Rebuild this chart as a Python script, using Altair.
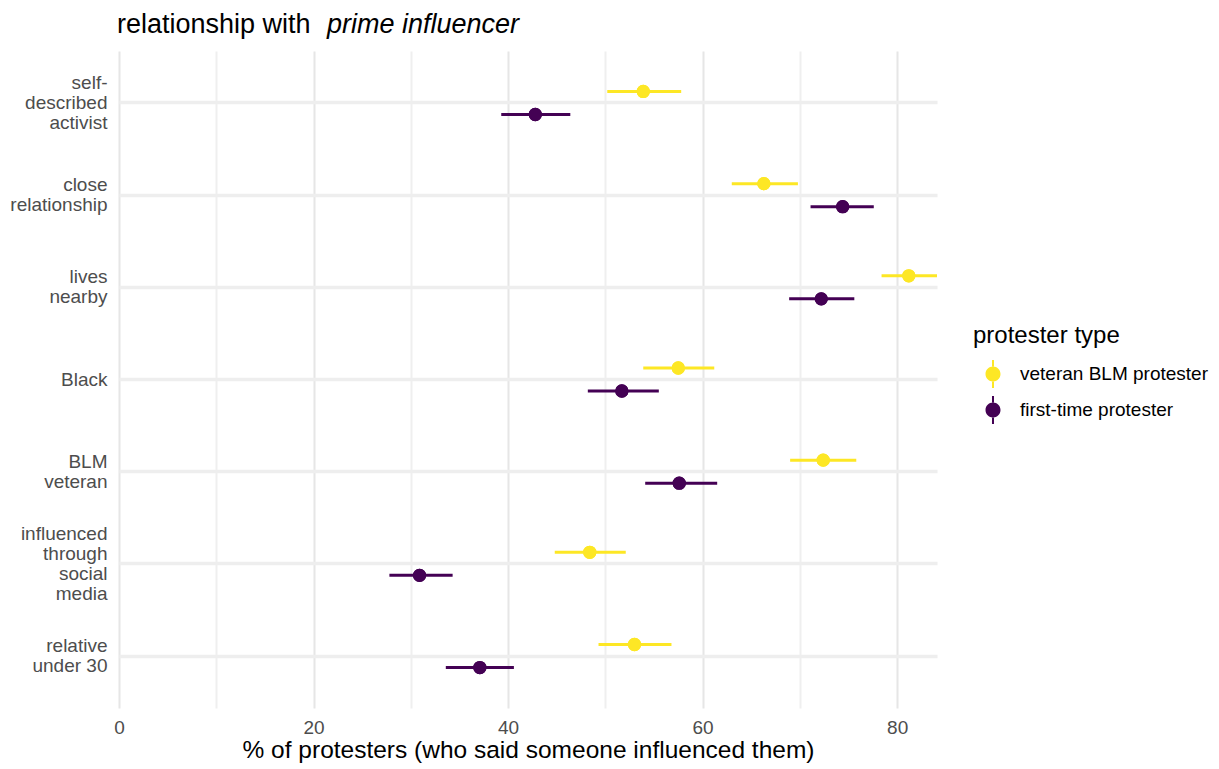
import altair as alt
import pandas as pd

categories = ["self-\ndescribed\nactivist", "close\nrelationship", "lives\nnearby", "Black",
              "BLM\nveteran", "influenced\nthrough\nsocial\nmedia", "relative\nunder 30"]
groups = ["veteran BLM protester", "first-time protester"]

vet_est = [53.9, 66.3, 81.2, 57.5, 72.4, 48.4, 53.0]
vet_lo = [50.2, 63.0, 78.4, 53.9, 69.0, 44.8, 49.3]
vet_hi = [57.8, 69.8, 85.0, 61.2, 75.8, 52.1, 56.8]

ft_est = [42.8, 74.4, 72.2, 51.7, 57.6, 30.9, 37.1]
ft_lo = [39.3, 71.1, 68.9, 48.2, 54.1, 27.8, 33.6]
ft_hi = [46.4, 77.6, 75.6, 55.5, 61.5, 34.3, 40.6]

rows = []
for i, c in enumerate(categories):
    rows.append({"cat": c, "group": groups[0], "est": vet_est[i], "lo": vet_lo[i], "hi": vet_hi[i]})
    rows.append({"cat": c, "group": groups[1], "est": ft_est[i], "lo": ft_lo[i], "hi": ft_hi[i]})
df = pd.DataFrame(rows)

FONT = "Liberation Sans"
colors = ["#FDE725", "#440154"]
LH = 20

xscale = alt.Scale(domain=[0, 84.1], nice=False, zero=True)
x_enc = alt.X("est:Q", scale=xscale,
              axis=alt.Axis(values=[0, 10, 20, 30, 40, 50, 60, 70, 80],
                            labelExpr="datum.value % 20 === 0 ? datum.label : ''",
                            title="% of protesters (who said someone influenced them)",
                            titleFontSize=24.5, titleFontWeight="normal", titleColor="#000000",
                            titlePadding=1, labelFlush=False,
                            labelFontSize=19, labelColor="#4d4d4d", labelPadding=10,
                            domain=False, ticks=False,
                            gridColor={"condition": {"test": "datum.value % 20 === 0", "value": "#e6e6e6"},
                                       "value": "#efefef"},
                            gridWidth=2))
nlines = "length(split(datum.value, '\\n'))"
y_enc = alt.Y("cat:N", sort=categories,
              scale=alt.Scale(paddingInner=0, paddingOuter=0.064),
              axis=alt.Axis(title=None, labelExpr="split(datum.label, '\\n')",
                            labelFontSize=19, labelColor="#4d4d4d", labelLineHeight=LH,
                            labelPadding=12, labelBaseline="middle",
                            labelOffset={"condition": [
                                {"test": nlines + " == 2", "value": -LH / 2},
                                {"test": nlines + " == 3", "value": -LH},
                                {"test": nlines + " == 4", "value": -1.5 * LH}],
                                "value": 0},
                            domain=False, ticks=False, bandPosition=0.5,
                            grid=True, gridColor="#eeeeee", gridWidth=3.5))
yoff = alt.YOffset("group:N", sort=groups, scale=alt.Scale(paddingInner=0, paddingOuter=1.0))

sym = ("M-0.067,-0.93H0.067V-0.49H-0.067Z M-0.067,0.49H0.067V0.93H-0.067Z "
       "M-0.5,0A0.5,0.5 0 1,0 0.5,0A0.5,0.5 0 1,0 -0.5,0Z")
color = alt.Color("group:N", sort=groups,
                  scale=alt.Scale(domain=groups, range=colors),
                  legend=alt.Legend(title="protester type", titleFontSize=24,
                                    titleFontWeight="normal", titleColor="#000000",
                                    labelFontSize=19, labelColor="#000000", labelLimit=300,
                                    orient="none", legendX=854, legendY=273,
                                    symbolType=sym, symbolSize=900, symbolOpacity=1,
                                    symbolStrokeWidth=0, symbolOffset=5,
                                    rowPadding=7, titlePadding=11, labelOffset=12))
color_nolegend = alt.Color("group:N", sort=groups,
                           scale=alt.Scale(domain=groups, range=colors), legend=None)

base = alt.Chart(df)
rules = base.mark_rule(strokeWidth=3, clip=True).encode(
    x=alt.X("lo:Q", scale=xscale), x2="hi:Q", y=y_enc, yOffset=yoff, color=color_nolegend)
points = base.mark_circle(size=177, opacity=1).encode(
    x=x_enc, y=y_enc, yOffset=yoff, color=color)

title_df = pd.DataFrame({"t1": ["relationship with"], "t2": ["prime influencer"]})
t1 = alt.Chart(title_df).mark_text(align="left", baseline="alphabetic", fontSize=27,
                                   font=FONT, color="#000000").encode(
    text="t1:N", x=alt.value(-2), y=alt.value(-18))
t2 = alt.Chart(title_df).mark_text(align="left", baseline="alphabetic", fontSize=27,
                                   font=FONT, fontStyle="italic", color="#000000").encode(
    text="t2:N", x=alt.value(208), y=alt.value(-18))

chart = alt.layer(points, rules, points, t1, t2).properties(
    width=818, height=657,
    autosize=alt.AutoSizeParams(type="none"),
    padding={"left": 111, "top": 43, "right": 272, "bottom": 55},
).configure(font=FONT).configure_view(stroke=None).configure_axis(
    labelFont=FONT, titleFont=FONT).configure_legend(labelFont=FONT, titleFont=FONT)

chart.save("out.html", embed_options={"renderer": "svg", "actions": False})
